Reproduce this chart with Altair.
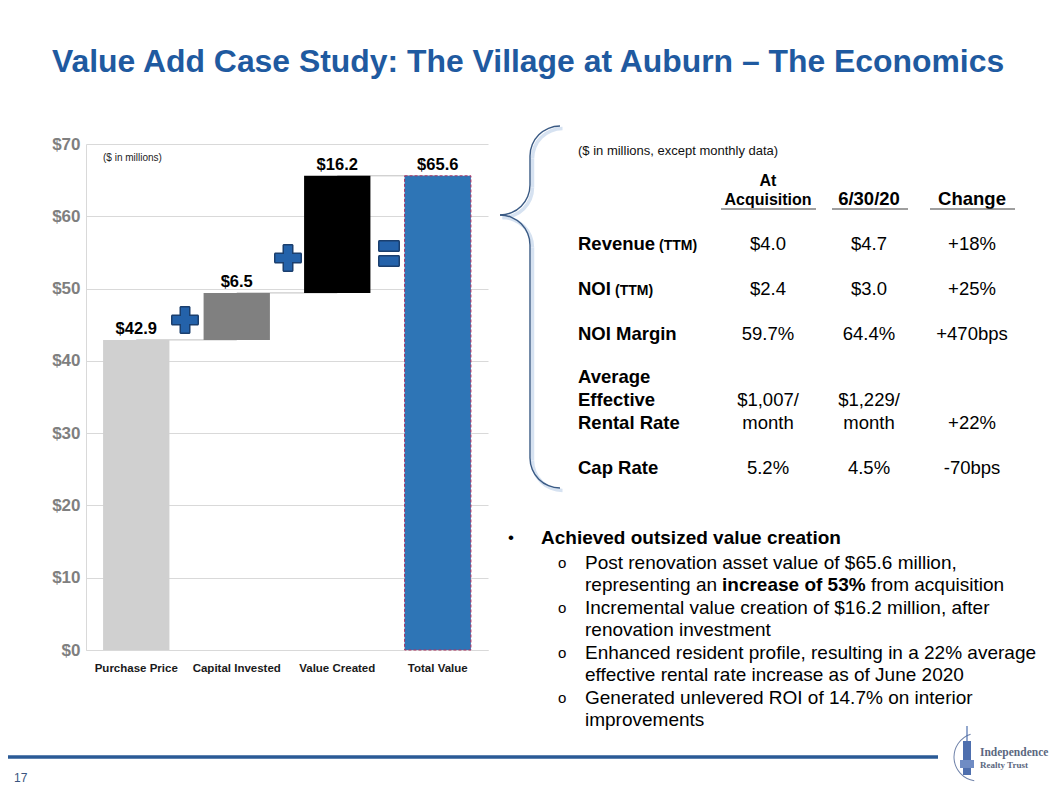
import math
import altair as alt
import pandas as pd

# ---------------- data ----------------
categories = ["Purchase Price", "Capital Invested", "Value Created", "Total Value"]
amounts = [42.9, 6.5, 16.2, 65.6]
bar_kind = ["total", "delta", "delta", "total"]
bar_colors = ["#D0D0D0", "#808080", "#000000", "#2E75B6"]
y_tick_values = [0, 10, 20, 30, 40, 50, 60, 70]

title_text = "Value Add Case Study: The Village at Auburn \u2013 The Economics"
chart_note = "($ in millions)"
table_note = "($ in millions, except monthly data)"
table_headers = ["At\nAcquisition", "6/30/20", "Change"]
row_labels = ["Revenue", "NOI", "NOI Margin", "Average\nEffective\nRental Rate", "Cap Rate"]
row_label_suffix = ["(TTM)", "(TTM)", "", "", ""]
acq_values = ["$4.0", "$2.4", "59.7%", "$1,007/\nmonth", "5.2%"]
now_values = ["$4.7", "$3.0", "64.4%", "$1,229/\nmonth", "4.5%"]
change_values = ["+18%", "+25%", "+470bps", "+22%", "-70bps"]

bullet_head = "Achieved outsized value creation"
sub_lines = [
    ["Post renovation asset value of $65.6 million,"],
    ["representing an ", "increase of 53%", "from acquisition"],
    ["Incremental value creation of $16.2 million, after"],
    ["renovation investment"],
    ["Enhanced resident profile, resulting in a 22% average"],
    ["effective rental rate increase as of June 2020"],
    ["Generated unlevered ROI of 14.7% on interior"],
    ["improvements"],
]
page_number = "17"
logo_lines = ["Independence", "Realty Trust"]

# ---------------- layout ----------------
OX, OY = 86, 144          # page position of the plot area
PW, PH = 402, 506         # plot area size
FONT = "Liberation Sans"
BLUE_T = "#1F5AA0"


def T(s, x, y, size, bold=False, align="left", color="#000000", font=FONT, lh=None):
    kw = dict(align=align, baseline="alphabetic", font=font, fontSize=size,
              fontWeight="bold" if bold else "normal", color=color)
    if lh:
        kw.update(lineBreak="\n", lineHeight=lh)
    return alt.Chart(pd.DataFrame({"t": [s]})).mark_text(**kw).encode(
        text="t:N", x=alt.value(x - OX), y=alt.value(y - OY))


def R(x1, y1, x2, y2, fill, radius=0):
    return alt.Chart(pd.DataFrame({"k": [0]})).mark_rect(color=fill, cornerRadius=radius).encode(
        x=alt.value(x1 - OX), x2=alt.value(x2 - OX), y=alt.value(y1 - OY), y2=alt.value(y2 - OY))


def L(x1, y1, x2, y2, color, w):
    return alt.Chart(pd.DataFrame({"k": [0]})).mark_rule(color=color, strokeWidth=w).encode(
        x=alt.value(x1 - OX), x2=alt.value(x2 - OX), y=alt.value(y1 - OY), y2=alt.value(y2 - OY))


def A(cx, cy, r, t1, t2, color, w):
    return alt.Chart(pd.DataFrame({"k": [0]})).mark_arc(
        radius=r + w / 2, radius2=r - w / 2, theta=t1, theta2=t2, color=color).encode(
        x=alt.value(cx - OX), y=alt.value(cy - OY))


# ---------------- waterfall ----------------
starts, ends, run = [], [], 0.0
for a, k in zip(amounts, bar_kind):
    if k == "total":
        s, e = 0.0, a
    else:
        s, e = run, run + a
    run = e
    starts.append(s)
    ends.append(round(e, 1))
wf = pd.DataFrame({"cat": categories, "start": starts, "end": ends,
                   "label": ["$" + f"{a:.1f}" for a in amounts]})
conn = pd.DataFrame({"cat": categories[:-1], "nxt": categories[1:], "end": ends[:-1]})

xs = alt.X("cat:N", sort=categories,
           scale=alt.Scale(domain=categories, paddingInner=0.34, paddingOuter=0.17),
           axis=alt.Axis(title=None, labelAngle=0, labelFont=FONT, labelFontWeight="bold",
                         labelFontSize=11.5, labelColor="#1A1A1A", labelPadding=12,
                         bandPosition=0.5, ticks=False, domainColor="#D9D9D9", grid=False))
ys = alt.Y("start:Q", scale=alt.Scale(domain=[0, 70], nice=False),
           axis=alt.Axis(title=None, values=y_tick_values, labelExpr="'$' + datum.value",
                         labelFont=FONT, labelFontWeight="bold", labelFontSize=17,
                         labelColor="#7F7F7F", labelPadding=6, ticks=False,
                         domainColor="#D9D9D9", gridColor="#D9D9D9"))

base = alt.Chart(wf)
connectors = alt.Chart(conn).mark_rule(color="#BFBFBF", strokeWidth=1).encode(
    x=xs, x2=alt.X2("nxt"), y=alt.Y("end:Q", scale=alt.Scale(domain=[0, 70], nice=False)))
bars = base.mark_bar().encode(
    x=xs, y=ys, y2="end:Q",
    color=alt.Color("cat:N", scale=alt.Scale(domain=categories, range=bar_colors), legend=None))
tv_outline = base.transform_filter(alt.datum.cat == "Total Value").mark_bar(
    fillOpacity=0, stroke="#B03060", strokeDash=[3, 2], strokeWidth=1).encode(
    x=alt.X("cat:N", sort=categories), y="start:Q", y2="end:Q")
bar_labels = base.mark_text(dy=-6, baseline="alphabetic", font=FONT, fontWeight="bold",
                            fontSize=16.5, color="#000000").encode(
    x=alt.X("cat:N", sort=categories), y="end:Q", text="label:N")

layers = [connectors, bars, tv_outline, bar_labels]

# plus / equals signs
DARK, MID = "#1B3F6E", "#2462AA"
for (cx, cy) in [(185, 320), (288, 258)]:
    layers += [R(cx - 14, cy - 5.5, cx + 14, cy + 5.5, DARK, 1.5),
               R(cx - 5.5, cy - 14, cx + 5.5, cy + 14, DARK, 1.5),
               R(cx - 12.5, cy - 4, cx + 12.5, cy + 4, MID),
               R(cx - 4, cy - 12.5, cx + 4, cy + 12.5, MID)]
for (y1, y2) in [(240, 252), (255, 267)]:
    layers += [R(378, y1, 400, y2, DARK, 1.5), R(379.5, y1 + 1.5, 398.5, y2 - 1.5, MID)]

layers.append(T(chart_note, 103, 161, 10, color="#222222"))

# ---------------- brace ----------------
PI = math.pi
for dx, col, w in [(2.5, "#D6E2F1", 3.5), (0, "#3A5A84", 1.4)]:
    layers += [
        A(560 + dx, 156 + dx, 30, 1.5 * PI, 2 * PI, col, w),
        L(530 + dx, 156 + dx, 530 + dx, 185 + dx, col, w),
        A(500 + dx, 185 + dx, 30, 0.5 * PI, PI, col, w),
        A(500 + dx, 245 + dx, 30, 0, 0.5 * PI, col, w),
        L(530 + dx, 245 + dx, 530 + dx, 458 + dx, col, w),
        A(560 + dx, 458 + dx, 30, PI, 1.5 * PI, col, w),
    ]

# ---------------- table ----------------
C1, C2, C3 = 768, 869, 972
layers.append(T(table_note, 578, 155, 13, color="#111111"))
layers.append(T(table_headers[0], C1, 186, 16, bold=True, align="center", lh=19))
layers.append(T(table_headers[1], C2, 205, 18.5, bold=True, align="center"))
layers.append(T(table_headers[2], C3, 205, 18.5, bold=True, align="center"))
for x1, x2 in [(721, 816), (832, 908), (930, 1015)]:
    layers.append(L(x1, 209, x2, 209, "#404040", 1.2))

row_base = [250, 295, 340, 383, 474]
suffix_x = [659, 615, 0, 0, 0]
for i, lab in enumerate(row_labels):
    yb = row_base[i]
    layers.append(T(lab, 578, yb, 18.5, bold=True, lh=23))
    if row_label_suffix[i]:
        layers.append(T(row_label_suffix[i], suffix_x[i], yb, 14, bold=True))
    multi = "\n" in acq_values[i]
    vy = yb + 23 if multi else yb
    layers.append(T(acq_values[i], C1, vy, 18.5, align="center", lh=23))
    layers.append(T(now_values[i], C2, vy, 18.5, align="center", lh=23))
    layers.append(T(change_values[i], C3, vy + (23 if multi else 0), 18.5, align="center"))

# ---------------- bullets ----------------
layers.append(T("\u2022", 508, 543, 17))
layers.append(T(bullet_head, 541, 544, 19, bold=True))
sub_base = [569, 591, 614, 636, 659, 681, 704, 726]
for i, parts in enumerate(sub_lines):
    yb = sub_base[i]
    if i % 2 == 0:
        layers.append(T("o", 558, yb - 1, 15))
    if len(parts) == 1:
        layers.append(T(parts[0], 585, yb, 19))
    else:
        layers.append(T(parts[0], 585, yb, 19))
        layers.append(T(parts[1], 722, yb, 19, bold=True))
        layers.append(T(parts[2], 871, yb, 19))

# ---------------- title & footer ----------------
layers.append(T(title_text, 52, 72, 31.9, bold=True, color=BLUE_T))
layers.append(L(0, 757, 938, 757, "#2A5A96", 3.5))
layers.append(T(page_number, 14, 782, 12, color="#3A5580"))
layers += [
    A(978, 757, 24, 1.05 * PI, 1.9 * PI, "#7083AA", 1),
    L(967, 726, 967, 742, "#4E6FAE", 1.2),
    R(963, 741, 971, 775, "#4E6FAE"),
    R(960, 760, 974, 768, "#6F8CC4"),
]
layers.append(T(logo_lines[0], 980, 756, 11.5, bold=True, color="#5B6780", font="Liberation Serif"))
layers.append(T(logo_lines[1], 980, 768, 9, bold=True, color="#5B6780", font="Liberation Serif"))

chart = alt.layer(*layers).properties(
    width=PW, height=PH,
    padding={"left": OX - 8, "top": OY - 8, "right": 1042 - (OX - 8) - PW, "bottom": 778 - (OY - 8) - PH},
    autosize=alt.AutoSizeParams(type="none"),
    background="white",
).configure_view(stroke=None)

chart.save("out.html", embed_options={"renderer": "svg", "actions": False})
